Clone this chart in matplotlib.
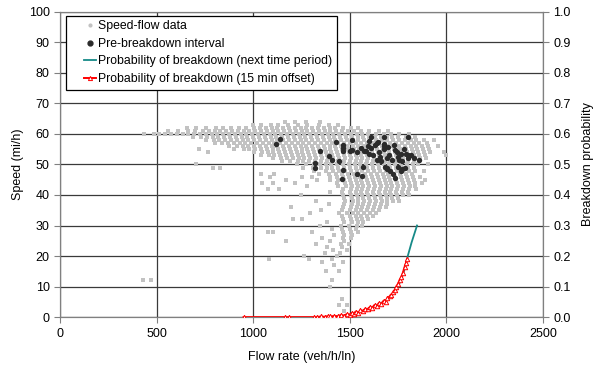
import matplotlib
matplotlib.use('Agg')
import matplotlib.pyplot as plt
from matplotlib.lines import Line2D
from matplotlib.legend_handler import HandlerLine2D

plt.rcParams['font.family'] = ['Liberation Sans', 'DejaVu Sans']
plt.rcParams['font.size'] = 9

# speed-flow observations, one row per speed value (mi/h): flows (veh/h/ln)
gray_rows = [
    (64, [1165, 1215, 1275, 1345]),
    (63, [1000, 1040, 1090, 1130, 1180, 1230, 1280, 1340, 1390, 1440]),
    (62, [655, 705, 755, 805, 845, 885, 925, 965, 1005, 1035, 1065, 1095, 1125,
          1155, 1185, 1215, 1245, 1275, 1305, 1335, 1365, 1395, 1425, 1465,
          1505, 1545]),
    (61, [560, 610, 660, 700, 740, 770, 800, 830, 860, 890, 920, 950, 980,
          1010, 1040, 1070, 1100, 1130, 1160, 1190, 1220, 1250, 1280, 1310,
          1340, 1370, 1400, 1430, 1460, 1490, 1520, 1560, 1600, 1650, 1700]),
    (60, [435, 485, 515, 545, 575, 605, 635, 665, 695, 725, 755, 785, 815, 845,
          875, 905, 935, 965, 995, 1025, 1055, 1085, 1115, 1145, 1175, 1205,
          1235, 1265, 1295, 1325, 1355, 1385, 1415, 1445, 1475, 1505, 1535,
          1565, 1595, 1635, 1675, 1715, 1755, 1805]),
    (59, [690, 730, 760, 790, 820, 850, 880, 910, 940, 970, 1000, 1030, 1060,
          1090, 1120, 1150, 1180, 1210, 1240, 1270, 1300, 1330, 1360, 1390,
          1420, 1450, 1480, 1510, 1540, 1570, 1600, 1630, 1660, 1690, 1720,
          1750, 1790, 1840]),
    (58, [755, 795, 825, 855, 885, 915, 945, 975, 1005, 1035, 1065, 1095, 1125,
          1155, 1185, 1215, 1245, 1275, 1305, 1335, 1365, 1395, 1425, 1455,
          1485, 1515, 1545, 1575, 1605, 1635, 1665, 1695, 1725, 1755, 1785,
          1815, 1845, 1885, 1935]),
    (57, [800, 840, 870, 900, 930, 960, 990, 1020, 1050, 1080, 1110, 1140,
          1170, 1200, 1230, 1260, 1290, 1320, 1350, 1380, 1410, 1440, 1470,
          1500, 1530, 1560, 1590, 1620, 1650, 1680, 1710, 1740, 1770, 1800,
          1830, 1860, 1900]),
    (56, [875, 915, 945, 975, 1005, 1035, 1065, 1095, 1125, 1155, 1185, 1215,
          1245, 1275, 1305, 1335, 1365, 1395, 1425, 1455, 1485, 1515, 1545,
          1575, 1605, 1635, 1665, 1695, 1725, 1755, 1785, 1815, 1845, 1875,
          1905, 1955]),
    (55, [720, 900, 950, 980, 1010, 1040, 1070, 1100, 1130, 1160, 1190, 1220,
          1250, 1280, 1310, 1340, 1370, 1400, 1430, 1460, 1490, 1520, 1550,
          1580, 1610, 1640, 1670, 1700, 1730, 1760, 1790, 1820, 1850, 1880,
          1910]),
    (54, [765, 1005, 1045, 1075, 1105, 1135, 1165, 1195, 1225, 1255, 1285,
          1315, 1345, 1375, 1405, 1435, 1465, 1495, 1525, 1555, 1585, 1615,
          1645, 1675, 1705, 1735, 1765, 1795, 1825, 1855, 1885, 1915, 1985]),
    (53, [1040, 1080, 1110, 1140, 1170, 1200, 1230, 1260, 1290, 1320, 1350,
          1380, 1410, 1440, 1470, 1500, 1530, 1560, 1590, 1620, 1650, 1680,
          1710, 1740, 1770, 1800, 1830, 1860, 1890, 2000]),
    (52, [1105, 1145, 1175, 1205, 1235, 1265, 1295, 1325, 1355, 1385, 1415,
          1445, 1475, 1505, 1535, 1565, 1595, 1625, 1655, 1685, 1715, 1745,
          1775, 1805, 1835, 1865, 1895]),
    (51, [1150, 1190, 1230, 1260, 1290, 1320, 1350, 1380, 1410, 1440, 1470,
          1500, 1530, 1560, 1590, 1620, 1650, 1680, 1710, 1740, 1770, 1800,
          1830, 1860]),
    (50, [705, 1225, 1275, 1315, 1345, 1375, 1405, 1435, 1465, 1495, 1525,
          1555, 1585, 1615, 1645, 1675, 1705, 1735, 1765, 1795, 1825, 1855,
          1905]),
    (49, [790, 830, 1260, 1310, 1350, 1380, 1410, 1440, 1470, 1500, 1530, 1560,
          1590, 1620, 1650, 1680, 1710, 1740, 1770, 1800, 1830]),
    (48, [1315, 1375, 1415, 1445, 1475, 1505, 1535, 1565, 1595, 1625, 1655,
          1685, 1715, 1745, 1775, 1805, 1835, 1885]),
    (47, [1040, 1110, 1340, 1390, 1430, 1460, 1490, 1520, 1550, 1580, 1610,
          1640, 1670, 1700, 1730, 1760, 1790, 1820]),
    (46, [1085, 1255, 1305, 1395, 1435, 1465, 1495, 1525, 1555, 1585, 1615,
          1645, 1675, 1705, 1735, 1765, 1795, 1825, 1865]),
    (45, [1170, 1330, 1400, 1440, 1470, 1500, 1530, 1560, 1590, 1620, 1650,
          1680, 1710, 1740, 1770, 1800, 1830, 1890]),
    (44, [1045, 1105, 1215, 1435, 1475, 1505, 1535, 1565, 1595, 1625, 1655,
          1685, 1715, 1745, 1775, 1805, 1835, 1875]),
    (43, [1280, 1440, 1480, 1510, 1540, 1570, 1600, 1630, 1660, 1690, 1720,
          1750, 1780, 1810, 1840]),
    (42, [1075, 1135, 1465, 1505, 1535, 1565, 1595, 1625, 1655, 1685, 1715,
          1745, 1775, 1805, 1845]),
    (41, [1400, 1460, 1500, 1530, 1560, 1590, 1620, 1650, 1680, 1710, 1740,
          1770, 1800]),
    (40, [1245, 1465, 1505, 1535, 1565, 1595, 1625, 1655, 1685, 1715, 1745,
          1775, 1805]),
    (39, [1470, 1510, 1540, 1570, 1600, 1630, 1660, 1690, 1720, 1750]),
    (38, [1325, 1475, 1515, 1545, 1575, 1605, 1635, 1665, 1695, 1725, 1755]),
    (37, [1390, 1470, 1510, 1540, 1570, 1600, 1630, 1660, 1690]),
    (36, [1195, 1465, 1505, 1535, 1565, 1595, 1625, 1655, 1685]),
    (35, [1350, 1460, 1500, 1530, 1560, 1590, 1620, 1650]),
    (34, [1295, 1445, 1485, 1515, 1545, 1575, 1605, 1635]),
    (33, [1460, 1500, 1530, 1560, 1590, 1620]),
    (32, [1205, 1255, 1465, 1505, 1535, 1565, 1595]),
    (31, [1380, 1470, 1510, 1540, 1570]),
    (30, [1345, 1455, 1495, 1535, 1565]),
    (29, [1410, 1460, 1500, 1530]),
    (28, [1075, 1105, 1305, 1465, 1505, 1545]),
    (27, [1420, 1470, 1510]),
    (26, [1355, 1465, 1505]),
    (25, [1170, 1400, 1470]),
    (24, [1325, 1455, 1495]),
    (23, [1380, 1460]),
    (22, [1415, 1485]),
    (21, [1370, 1450]),
    (20, [1265, 1435]),
    (19, [1080, 1290, 1410]),
    (18, [1355, 1465]),
    (17, [1420]),
    (15, [1375, 1445]),
    (12, [430, 470, 1410]),
    (10, [1395]),
    (6, [1460]),
    (4, [1445, 1485]),
    (2, [1470]),
]
gray_flow = [f for s, fl in gray_rows for f in fl]
gray_speed = [s for s, fl in gray_rows for f in fl]

# pre-breakdown interval observations
pre_flow = [1137, 1117, 1430, 1510, 1344, 1318, 1322, 1391, 1410, 1444,
            1465, 1465, 1465, 1463, 1462, 1500, 1511, 1537, 1568, 1539,
            1565, 1612, 1677, 1801, 1648, 1677, 1677, 1677, 1596, 1610,
            1630, 1585, 1600, 1620, 1640, 1660, 1690, 1720, 1705, 1735,
            1745, 1750, 1755, 1765, 1780, 1770, 1803, 1830, 1860, 1680,
            1695, 1710, 1725, 1690, 1732, 1750, 1765, 1770, 1785, 1640,
            1650, 1700, 1730, 1790, 1800, 1815, 1560, 1575, 1600, 1655]
pre_speed = [58.3, 56.7, 57.5, 58.0, 54.5, 50.6, 48.7, 52.8, 51.5, 51.1,
             56.4, 55.4, 54.5, 48.3, 45.4, 54.3, 54.8, 54.0, 49.2, 46.9,
             46.1, 59.0, 59.0, 58.9, 57.2, 56.8, 56.0, 55.2, 56.0, 55.4,
             56.5, 54.5, 53.5, 53.0, 51.5, 51.2, 52.0, 51.6, 53.0, 54.8,
             54.0, 52.5, 51.5, 53.5, 55.0, 51.0, 53.0, 52.0, 51.5, 49.3,
             48.5, 47.8, 47.0, 49.0, 45.5, 49.3, 48.0, 48.5, 49.0, 57.0,
             54.0, 55.8, 56.5, 53.5, 52.0, 53.2, 55.5, 54.5, 57.8, 52.5]

# probability of breakdown (next time period)
next_flow = [1450, 1480, 1520, 1560, 1600, 1640, 1680, 1710, 1730, 1750,
             1770, 1790, 1800, 1820, 1848]
next_prob = [0.0, 0.005, 0.011, 0.019, 0.028, 0.039, 0.052, 0.066, 0.080,
             0.100, 0.130, 0.170, 0.200, 0.245, 0.300]

# probability of breakdown (15 min offset)
off_flow = [950, 1165, 1185, 1315, 1330, 1350, 1370, 1385, 1400, 1420,
            1437, 1455, 1470, 1485, 1500, 1510, 1520, 1530, 1545, 1555,
            1568, 1580, 1592, 1605, 1615, 1628, 1640, 1650, 1662, 1675,
            1685, 1695, 1706, 1715, 1725, 1733, 1741, 1750, 1758, 1767,
            1775, 1784, 1790, 1796]
off_prob = [0.0, 0.0, 0.0, 0.0, 0.0, 0.002, 0.001, 0.003, 0.002, 0.004,
            0.003, 0.007, 0.005, 0.010, 0.008, 0.014, 0.011, 0.018, 0.015,
            0.023, 0.020, 0.028, 0.025, 0.034, 0.030, 0.040, 0.036, 0.046,
            0.042, 0.054, 0.050, 0.062, 0.068, 0.074, 0.082, 0.090, 0.100,
            0.110, 0.122, 0.132, 0.146, 0.165, 0.176, 0.190]

fig = plt.figure(figsize=(6, 3.7), dpi=100)
ax = fig.add_axes([0.1, 0.143, 0.805, 0.825])
ax2 = ax.twinx()

frame_color = '#808080'
gray_color = '#c2c2c2'
dark_color = '#2b2b2b'
green_color = '#168a88'

ax.scatter(gray_flow, gray_speed, s=12, marker='s', color=gray_color,
           linewidths=0, zorder=2)
ax.scatter(pre_flow, pre_speed, s=15, marker='o', color=dark_color,
           linewidths=0, zorder=3)

ax.set_xlim(0, 2500)
ax.set_ylim(0, 100)
ax.set_xticks(range(0, 2501, 500))
ax.set_yticks(range(0, 101, 10))
ax.grid(True, color='#3a3a3a', lw=0.9, zorder=1)
ax.set_axisbelow(True)
ax.set_xlabel('Flow rate (veh/h/ln)', labelpad=8)
ax.set_ylabel('Speed (mi/h)', labelpad=3)

ax2.plot(next_flow, next_prob, color=green_color, lw=1.3, zorder=3)
ax2.plot(off_flow, off_prob, color='red', lw=1.4, marker='^', ms=3.2,
         mfc='white', mec='red', mew=0.7, zorder=4)
ax2.set_ylim(0, 1)
ax2.set_yticks([i / 10 for i in range(11)])
ax2.set_yticklabels([f'{i / 10:.1f}' for i in range(11)])
ax2.set_ylabel('Breakdown probability', labelpad=8)

for a in (ax, ax2):
    for sp in a.spines.values():
        sp.set_color(frame_color)
    a.tick_params(colors='black', length=4, color=frame_color)

handles = [
    Line2D([], [], ls='none', marker='o', ms=2, color=gray_color),
    Line2D([], [], ls='none', marker='o', ms=3.5, color=dark_color),
    Line2D([], [], color=green_color, lw=1.3),
    Line2D([], [], color='red', lw=1.4, marker='^', ms=3, mfc='white',
           mec='red', mew=0.7),
]
labels = ['Speed-flow data', 'Pre-breakdown interval',
          'Probability of breakdown (next time period)',
          'Probability of breakdown (15 min offset)']
# push the legend keys to the right part of the handle box
shifted = {h: HandlerLine2D(xpad=1.1) for h in handles}
leg = ax2.legend(handles, labels, loc='upper left',
                 bbox_to_anchor=(0.012, 0.988), borderaxespad=0,
                 fancybox=False, framealpha=1, edgecolor='black',
                 fontsize=8.8, handlelength=2.1, handletextpad=0.1,
                 labelspacing=0.45, borderpad=0.4, handler_map=shifted)
leg.get_frame().set_linewidth(0.9)

fig.savefig('out.png', dpi=100)
